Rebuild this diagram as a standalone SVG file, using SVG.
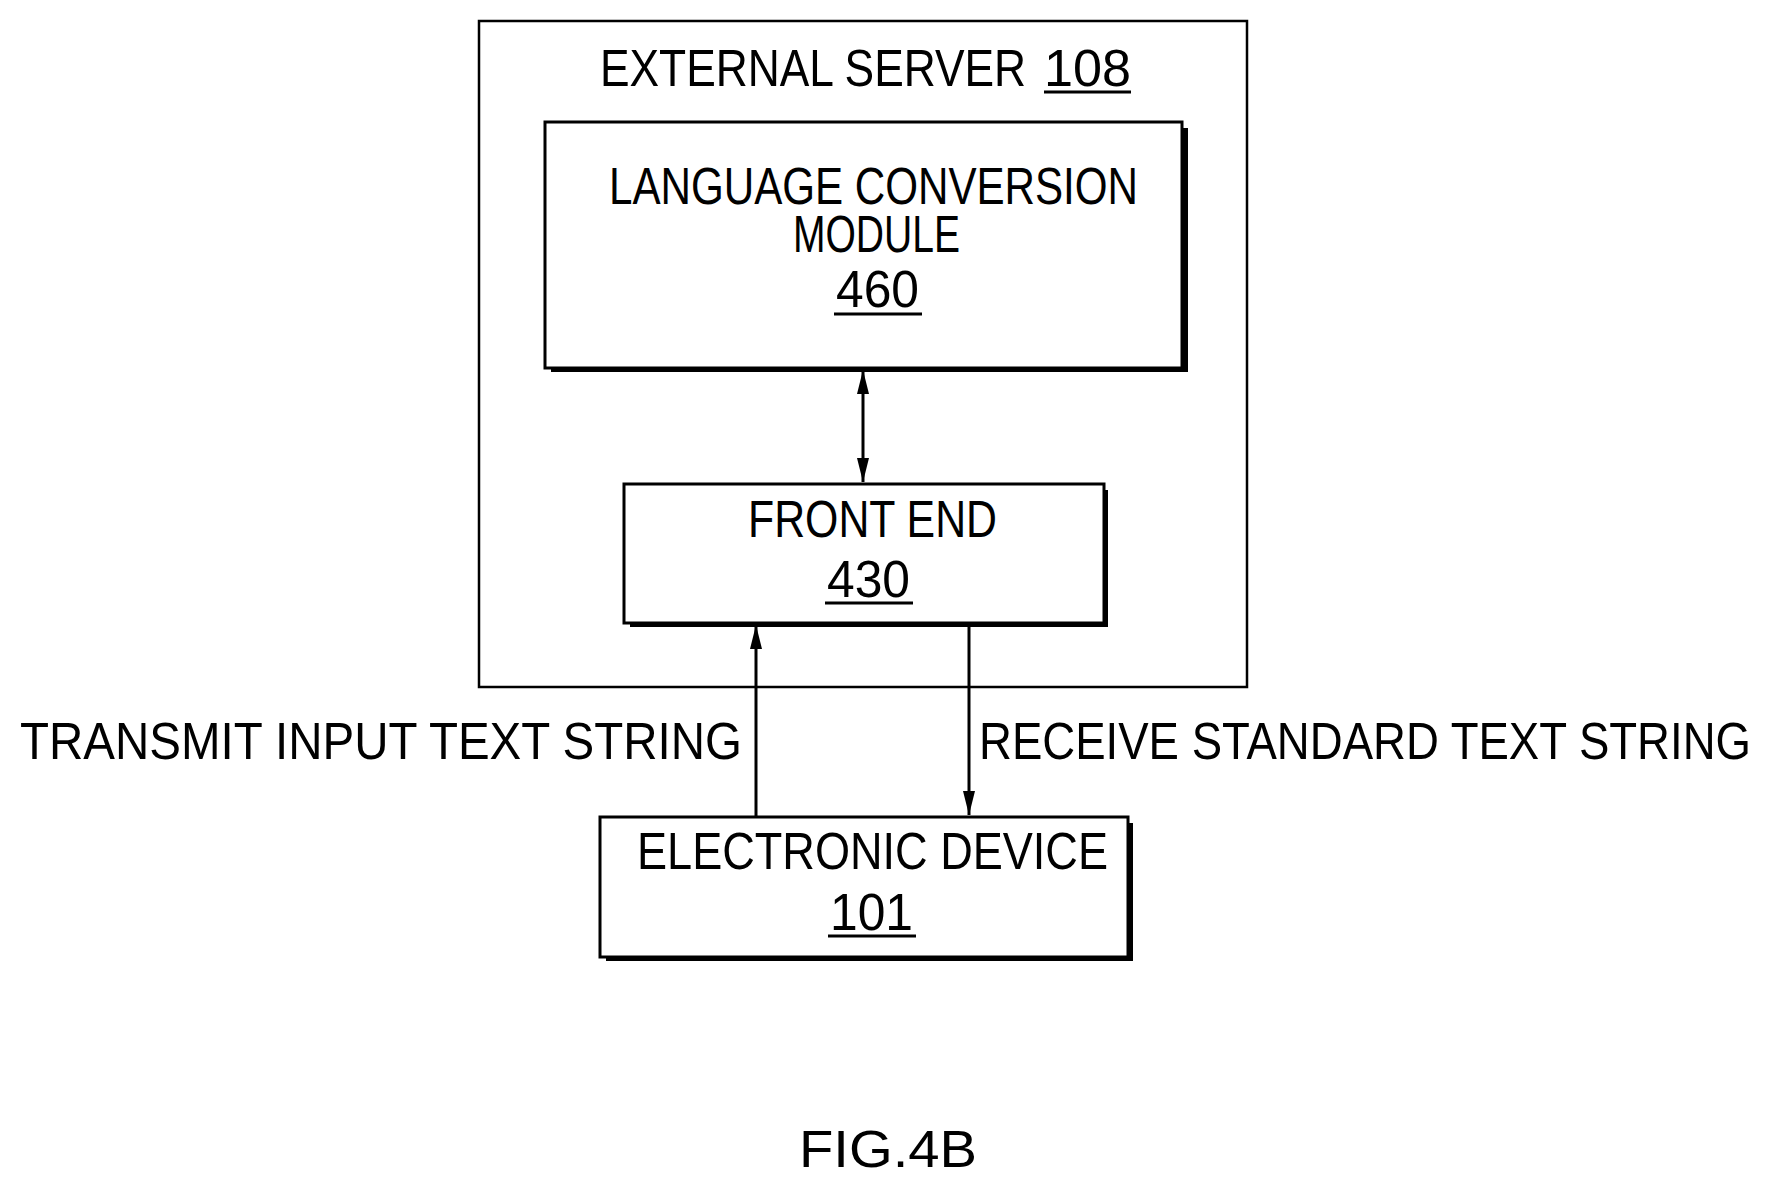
<svg xmlns="http://www.w3.org/2000/svg" width="1768" height="1184" viewBox="0 0 1768 1184">
<style>
text{font-family:"Liberation Sans",Arial,sans-serif;font-size:52px;fill:#000}
.box{fill:#fff;stroke:#000;stroke-width:3}
.sh{fill:#000}
.ln{stroke:#000;stroke-width:3;fill:none}
</style>
<defs>
<marker id="ahs" viewBox="0 0 20 10" refX="20" refY="5" markerWidth="24" markerHeight="12" markerUnits="userSpaceOnUse" orient="auto-start-reverse"><path d="M0,0L20,5L0,10z" fill="#000"/></marker>
</defs>
<rect width="1768" height="1184" fill="#fff"/>
<g id="server">
<rect x="479" y="21" width="768" height="666" fill="none" stroke="#000" stroke-width="2.5"/>
<text x="600" y="86" textLength="426" lengthAdjust="spacingAndGlyphs">EXTERNAL SERVER</text>
<text x="1044" y="86" textLength="87" lengthAdjust="spacingAndGlyphs">108</text>
<line class="ln" x1="1044" y1="92" x2="1131" y2="92" stroke-width="2"/>
</g>
<g id="lcm">
<rect class="sh" x="551" y="128" width="637" height="244"/>
<rect class="box" x="545" y="122" width="637" height="246"/>
<text x="609" y="204" textLength="529" lengthAdjust="spacingAndGlyphs">LANGUAGE CONVERSION</text>
<text x="793" y="252" textLength="167" lengthAdjust="spacingAndGlyphs">MODULE</text>
<text x="836" y="307" textLength="83" lengthAdjust="spacingAndGlyphs">460</text>
<line class="ln" x1="834" y1="314" x2="922" y2="314" stroke-width="2"/>
</g>
<g id="frontend">
<rect class="sh" x="630" y="490" width="478" height="137"/>
<rect class="box" x="624" y="484" width="480" height="139"/>
<text x="748" y="537" textLength="249" lengthAdjust="spacingAndGlyphs">FRONT END</text>
<text x="827" y="597" textLength="83" lengthAdjust="spacingAndGlyphs">430</text>
<line class="ln" x1="825" y1="603" x2="913" y2="603" stroke-width="2"/>
</g>
<g id="device">
<rect class="sh" x="606" y="823" width="527" height="138"/>
<rect class="box" x="600" y="817" width="528" height="140"/>
<text x="637" y="869" textLength="471" lengthAdjust="spacingAndGlyphs">ELECTRONIC DEVICE</text>
<text x="830" y="930" textLength="83" lengthAdjust="spacingAndGlyphs">101</text>
<line class="ln" x1="828" y1="936" x2="916" y2="936" stroke-width="2"/>
</g>
<g id="connectors">
<line class="ln" x1="863" y1="370" x2="863" y2="482" marker-start="url(#ahs)" marker-end="url(#ahs)" stroke-width="2.5"/>
<line class="ln" x1="756" y1="817" x2="756" y2="625" marker-end="url(#ahs)" stroke-width="2.5"/>
<line class="ln" x1="969" y1="623" x2="969" y2="815" marker-end="url(#ahs)" stroke-width="2.5"/>
<text x="20" y="759" textLength="722" lengthAdjust="spacingAndGlyphs">TRANSMIT INPUT TEXT STRING</text>
<text x="979" y="759" textLength="772" lengthAdjust="spacingAndGlyphs">RECEIVE STANDARD TEXT STRING</text>
</g>
<text x="799" y="1167" textLength="178" lengthAdjust="spacingAndGlyphs">FIG.4B</text>
</svg>
